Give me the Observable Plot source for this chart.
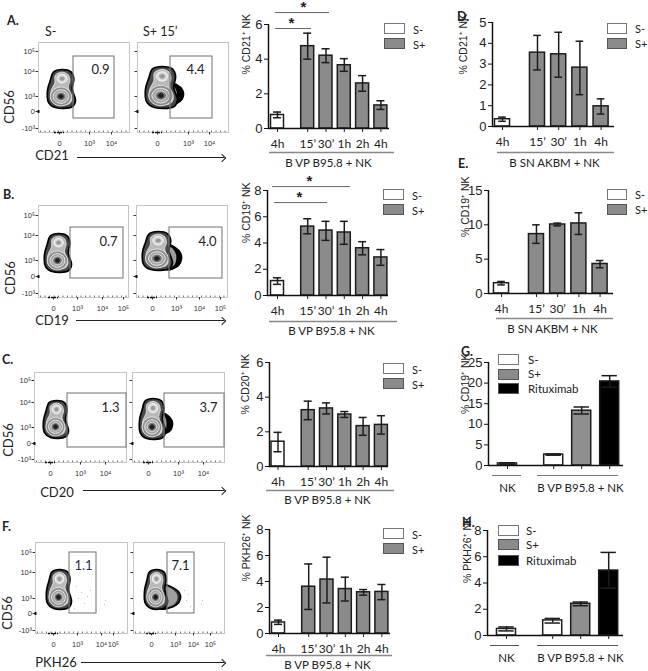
<!DOCTYPE html>
<html><head><meta charset="utf-8">
<script src="https://cdn.jsdelivr.net/npm/d3@7"></script>
<script src="https://cdn.jsdelivr.net/npm/@observablehq/plot@0.6"></script>
<style>
html,body{margin:0;padding:0;background:#fff}
#fig{position:relative;width:648px;height:671px;overflow:hidden;background:#fff}
#fig svg{position:absolute;overflow:visible;background:transparent}
.t{position:absolute;white-space:nowrap;font-family:Lato,sans-serif;color:#222;line-height:1;transform:translateY(-50%)}
.sw{position:absolute;box-sizing:border-box;border:1.4px solid #444}
.ln{position:absolute;height:1.2px;background:#222}
.hd{position:absolute;width:5px;height:5px;border-top:1.3px solid #222;border-right:1.3px solid #222;transform:rotate(45deg)}
</style></head>
<body><div id="fig"></div>
<script>
// ---------- bar chart values ----------
const vpTimes = ["4h","15’","30’","1h","2h","4h"];
const snTimes = ["4h","15’","30’","1h","4h"];
const ritKinds = ["S-","S+","Rituximab"];

const cd21Mean = [0.78,4.75,4.2,3.65,2.6,1.33];
const cd21Low  = [0.62,4.0,3.8,3.3,2.15,1.1];
const cd21High = [0.95,5.5,4.6,4.03,3.05,1.6];

const cd19Mean = [1.1,5.25,4.95,4.8,3.6,2.9];
const cd19Low  = [0.85,4.7,4.2,3.9,3.1,2.3];
const cd19High = [1.35,5.85,5.65,5.65,4.1,3.5];

const cd20Mean = [1.43,3.25,3.35,3.0,2.33,2.4];
const cd20Low  = [0.85,2.7,3.03,2.83,1.8,1.87];
const cd20High = [1.97,3.77,3.67,3.17,2.83,2.93];

const pkhMean = [0.85,3.6,4.15,3.42,3.17,3.2];
const pkhLow  = [0.7,1.85,2.35,2.5,2.95,2.6];
const pkhHigh = [1.03,5.35,5.87,4.33,3.38,3.77];

const snCd21Mean = [0.35,3.55,3.47,2.83,0.97];
const snCd21Low  = [0.25,2.72,2.37,1.53,0.6];
const snCd21High = [0.45,4.38,4.53,4.1,1.33];

const snCd19Mean = [1.5,8.65,10.05,10.2,4.3];
const snCd19Low  = [1.25,7.3,9.85,8.6,3.75];
const snCd19High = [1.75,10,10.25,11.75,4.8];

const ritCd19Mean = [0.5,2.65,13.3,20.4];
const ritCd19Low  = [0.35,2.5,12.5,19.0];
const ritCd19High = [0.65,2.8,14.2,21.8];

const ritPkhMean = [0.5,1.15,2.42,4.95];
const ritPkhLow  = [0.35,0.95,2.27,3.6];
const ritPkhHigh = [0.65,1.3,2.55,6.33];

// ---------- gate percentages ----------
const gateValues = ["0.9","4.4","0.7","4.0","1.3","3.7","1.1","7.1"];

// ---------- density contour shapes, in units of each population's box ----------
const outerX = [.52,.84,.94,.88,1,.88,.28,.04,0,.1,.22];
const outerY = [0,.06,.24,.51,.82,.98,1,.87,.55,.29,.06];
const innerX = [.52,.74,.8,.74,.87,.78,.3,.13,.13,.26,.28];
const innerY = [.07,.14,.29,.46,.76,.9,.92,.8,.56,.35,.15];
const ringX = [0,.7,1,.7,0,-.7,-1,-.7];
const ringY = [-1,-.7,0,.7,1,.7,0,-.7];
const bumpX = [0,.55,.95,1,.8,0];
const bumpY = [0,.1,.35,.6,.85,1];
const lowerRings = [[.38,.25,"#8d8d8d","#eee"],[.28,.18,"#a3a3a3","#fff"],[.18,.115,"#7a7a7a","#eee"],[.09,.06,"#1d1d1d","#333"]];
const topRings = [[.18,.115,"#dcdcdc","#fff"],[.1,.065,"#999","#ccc"]];
const pkhDotsLeft = [[78,598],[81,592],[84,603],[87,596],[74,608],[90,590],[76,586],[104,604],[105,600]];
const pkhDotsRight = [[184,590],[186,600],[188,594],[201,604],[202,600],[190,606]];

const BAR = {S:"#fff", P:"#8b8b8b", K:"#000"};
const LATO = "Lato, sans-serif", ARIAL = "'Liberation Sans', Arial, sans-serif";
const fig = document.getElementById("fig");

function place(svg, left, top){ svg.style.left = left+"px"; svg.style.top = top+"px"; fig.appendChild(svg); }
function text(s,x,y,o={}){
  const e=document.createElement("div"); e.className="t"; e.textContent=s;
  e.style.left=x+"px"; e.style.top=y+"px"; e.style.fontSize=(o.size||12)+"px";
  if(o.bold) e.style.fontWeight="700";
  if(o.center) e.style.transform="translate(-50%,-50%)";
  if(o.rot) e.style.transform="translate(-50%,-50%) rotate(-90deg)";
  fig.appendChild(e);
}
function legend(x,w,h,items,tx,size){
  items.forEach(it=>{
    const e=document.createElement("div"); e.className="sw";
    e.style.cssText+=`left:${x}px;top:${it.y}px;width:${w}px;height:${h}px;background:${it.fill};`;
    e.style.borderColor = it.fill==="#fff"?"#777":"#555";
    fig.appendChild(e);
    text(it.label,tx,it.y+h/2,{size:size||11});
  });
}
function arrow(x1,x2,y){
  const l=document.createElement("div"); l.className="ln";
  l.style.cssText+=`left:${x1}px;top:${y}px;width:${x2-x1}px;`; fig.appendChild(l);
  const h=document.createElement("div"); h.className="hd";
  h.style.cssText+=`left:${x2-5.5}px;top:${y-2.4}px;`; fig.appendChild(h);
}

// ---------- bar panel ----------
function barPanel(p){
  const toSlot = px => (px-p.first)/p.slot;
  const pos = i => i===0 ? 0 : i+0.65;
  const rows = p.mean.map((m,i)=>({i,x:pos(i),m,lo:p.low[i],hi:p.high[i],fill:p.fills[i]}));
  const hw = p.bw/2, cap = p.cap/2;
  const mL=36,mR=14,mT=Math.min(p.T,24),mB=46;
  const groups = p.groups.map(g=>({label:g.label,x1:toSlot(g.a),x2:toSlot(g.b),cx:toSlot(g.c)}));
  const tickLabels = new Map(rows.map((d,i)=>[d.x,p.labels[i]]));
  const marks = [
    Plot.rectY(rows,{x1:d=>d.x-hw,x2:d=>d.x+hw,y1:()=>0,y2:"m",fill:"fill",stroke:"#1c1c1c",strokeWidth:1.5}),
    Plot.ruleX(rows,{x:"x",y1:"lo",y2:"hi",stroke:"#1c1c1c",strokeWidth:1.5}),
    Plot.ruleY(rows,{y:"hi",x1:d=>d.x-cap,x2:d=>d.x+cap,stroke:"#1c1c1c",strokeWidth:1.5}),
    Plot.ruleY(rows,{y:"lo",x1:d=>d.x-cap,x2:d=>d.x+cap,stroke:"#1c1c1c",strokeWidth:1.5}),
    Plot.ruleY([0],{stroke:"#111",strokeWidth:1.5}),
    Plot.ruleX([toSlot(p.L)],{y1:0,y2:p.yMax,stroke:"#111",strokeWidth:1.5}),
    Plot.axisY({ticks:p.yTicks,tickSize:4,tickPadding:2,label:null,fontSize:13,fontFamily:ARIAL,stroke:"#111",color:"#222",tickFormat:d=>String(d)}),
    Plot.axisX({ticks:rows.map(d=>d.x),tickSize:p.labels[0]?4:4,tickPadding:p.tickPad,label:null,fontSize:12,fontFamily:LATO,color:"#222",tickFormat:d=>tickLabels.get(d)||""}),
    Plot.text([p.ylabel],{frameAnchor:"left",rotate:-90,dx:-(p.L-p.yLabelX),dy:p.yLabelDy||0,fontSize:10.5,fontFamily:ARIAL,fill:"#222"}),
    Plot.ruleY(groups,{y:()=>0,x1:"x1",x2:"x2",dy:p.ruleDy,stroke:p.ruleColor||"#888",strokeWidth:p.ruleWidth||1.6}),
    Plot.text(groups,{x:"cx",y:()=>0,text:"label",dy:p.labelDy,fontSize:11.5,fontFamily:LATO,fill:"#222"})
  ];
  if(p.sig){
    const sig = p.sig.map(s=>({y:s.y,x1:toSlot(s.a),x2:toSlot(s.b),sx:toSlot(s.star)}));
    marks.push(Plot.ruleY(sig,{y:"y",x1:"x1",x2:"x2",stroke:"#555",strokeWidth:0.9}));
    marks.push(Plot.text(sig,{x:"sx",y:"y",text:()=>"*",dy:-5,fontSize:15,fontWeight:"bold",fontFamily:ARIAL,fill:"#222"}));
  }
  const svg = Plot.plot({
    width:p.R-p.L+mL+mR, height:p.B-p.T+mT+mB,
    marginLeft:mL,marginRight:mR,marginTop:mT,marginBottom:mB,
    x:{type:"linear",domain:[toSlot(p.L),toSlot(p.R)]},
    y:{domain:[0,p.yMax]},
    style:{background:"transparent",overflow:"visible"},
    marks
  });
  place(svg,p.L-mL,p.T-mT);
}

const fillsVP=[BAR.S,BAR.P,BAR.P,BAR.P,BAR.P,BAR.P];
const fillsSN=[BAR.S,BAR.P,BAR.P,BAR.P,BAR.P];
const fillsR=["#fff","#fff","#8f8f8f","#000"];
const ritRuleColor="#777";

barPanel({L:268,R:389,T:24,B:128,yMax:6,yTicks:[0,2,4,6],first:277,slot:18.3,bw:.71,cap:.44,mean:cd21Mean,low:cd21Low,high:cd21High,fills:fillsVP,labels:vpTimes,ylabel:"% CD21⁺ NK",yLabelX:246,yLabelDy:-2,tickPad:7,ruleDy:24,labelDy:35,
  groups:[{label:"B VP B95.8 + NK",a:269,b:394,c:328}],sig:[{y:6.69,a:275,b:329,star:303},{y:5.77,a:275,b:311,star:291}]});
barPanel({L:267,R:388,T:190,B:295,yMax:8,yTicks:[0,2,4,6,8],first:277,slot:18.3,bw:.71,cap:.44,mean:cd19Mean,low:cd19Low,high:cd19High,fills:fillsVP,labels:vpTimes,ylabel:"% CD19⁺ NK",yLabelX:246,tickPad:7,ruleDy:26,labelDy:36,
  groups:[{label:"B VP B95.8 + NK",a:269,b:397,c:331}],sig:[{y:8.3,a:272,b:350,star:309},{y:7.08,a:274,b:327,star:299}]});
barPanel({L:269,R:388,T:362,B:466,yMax:6,yTicks:[0,2,4,6],first:277.5,slot:18.3,bw:.71,cap:.44,mean:cd20Mean,low:cd20Low,high:cd20High,fills:fillsVP,labels:vpTimes,ylabel:"% CD20⁺ NK",yLabelX:245,tickPad:7,ruleDy:24,labelDy:34,
  groups:[{label:"B VP B95.8 + NK",a:266,b:394,c:327}]});
barPanel({L:269,R:390,T:529,B:633,yMax:8,yTicks:[0,2,4,6,8],first:278,slot:18.3,bw:.71,cap:.44,mean:pkhMean,low:pkhLow,high:pkhHigh,fills:fillsVP,labels:vpTimes,ylabel:"% PKH26⁺ NK",yLabelX:246,tickPad:7,ruleDy:22,labelDy:32,
  groups:[{label:"B VP B95.8 + NK",a:266,b:392,c:327}]});
barPanel({L:492,R:614,T:22,B:126,yMax:5,yTicks:[0,1,2,3,4,5],first:502,slot:21.2,bw:.71,cap:.36,mean:snCd21Mean,low:snCd21Low,high:snCd21High,fills:fillsSN,labels:snTimes,ylabel:"% CD21⁺ NK",yLabelX:463,tickPad:7,ruleDy:26,labelDy:37,
  groups:[{label:"B SN AKBM + NK",a:497,b:614,c:554}]});
barPanel({L:488,R:613,T:190,B:293,yMax:15,yTicks:[0,5,10,15],first:501,slot:21.2,bw:.71,cap:.36,mean:snCd19Mean,low:snCd19Low,high:snCd19High,fills:fillsSN,labels:snTimes,ylabel:"% CD19⁺ NK",yLabelX:465,yLabelDy:-5,tickPad:7,ruleDy:25,labelDy:36,
  groups:[{label:"B SN AKBM + NK",a:496,b:613,c:552}]});
barPanel({L:488,R:623,T:362,B:465,yMax:25,yTicks:[0,5,10,15,20,25],first:507,slot:28,bw:.68,cap:.55,mean:ritCd19Mean,low:ritCd19Low,high:ritCd19High,fills:fillsR,labels:["","","",""],ylabel:"% CD19⁺ NK",yLabelX:465,tickPad:7,ruleDy:10,labelDy:23,ruleColor:ritRuleColor,ruleWidth:1,
  groups:[{label:"NK",a:492,b:521,c:507},{label:"B VP B95.8 + NK",a:537,b:618,c:580}]});
barPanel({L:487,R:623,T:530,B:635,yMax:8,yTicks:[0,2,4,6,8],first:506,slot:28,bw:.68,cap:.55,mean:ritPkhMean,low:ritPkhLow,high:ritPkhHigh,fills:fillsR,labels:["","","",""],ylabel:"% PKH26⁺ NK",yLabelX:467,tickPad:7,ruleDy:10,labelDy:23,ruleColor:"#555",ruleWidth:1,
  groups:[{label:"NK",a:490,b:519,c:506},{label:"B VP B95.8 + NK",a:537,b:618,c:580}]});

// ---------- legends ----------
const sm = t=>[{label:"S-",y:t,fill:"#fff"},{label:"S+",y:t+15,fill:BAR.P}];
legend(384,21,11,sm(23),413);
legend(607,20,10.5,sm(23),635);
legend(383,21,11,sm(189),412);
legend(607,20,10.5,sm(189),635);
legend(383,21,11,sm(363),412);
legend(383,21,11,sm(528),412);
legend(498,21,11,[{label:"S-",y:354,fill:"#fff"},{label:"S+",y:368.5,fill:BAR.P},{label:"Rituximab",y:383,fill:"#000"}],528,11.5);
legend(498,21,11,[{label:"S-",y:525,fill:"#fff"},{label:"S+",y:539,fill:BAR.P},{label:"Rituximab",y:555,fill:"#000"}],526,11.5);

// ---------- flow plots ----------
function shape(xs,ys,box,fill,stroke,sw){
  const pts = xs.map((x,i)=>({x:box.x1+x*(box.x2-box.x1),y:box.y1+ys[i]*(box.y2-box.y1)}));
  return Plot.line(pts,{x:"x",y:"y",curve:"catmull-rom-closed",fill,stroke,strokeWidth:sw,imageFilter:"blur(0.25px)"});
}
function ring(box,cx,cy,rx,ry,fill,stroke){
  const w=box.x2-box.x1,h=box.y2-box.y1;
  const b={x1:box.x1+cx*w,x2:box.x1+cx*w+rx*w,y1:box.y1+cy*h,y2:box.y1+cy*h+ry*h*(1)};
  return shape(ringX,ringY,b,fill,stroke,0.8);
}
function facs(f){
  const mL=20,mB=22,mT=2,mR=2;
  const marks=[Plot.frame({stroke:"#c4c4c4",strokeWidth:1})];
  if(f.bump){
    marks.push(shape(bumpX,bumpY,f.bump,f.bumpFill||"#000","#000",1.4));
    const b=f.bump, inner={x1:b.x1,x2:b.x1+(b.x2-b.x1)*(f.bumpInner||.6),y1:b.y1+1,y2:b.y2-1};
    marks.push(shape(bumpX,bumpY,inner,"#9e9e9e","none",0));
  }
  marks.push(shape(outerX,outerY,f.box,"#4a4a4a","#000",1.7));
  marks.push(shape(innerX,innerY,f.box,"#b9b9b9","#eee",0.8));
  lowerRings.forEach(r=>marks.push(ring(f.box,.48,.71,r[0],r[1],r[2],r[3])));
  topRings.forEach(r=>marks.push(ring(f.box,.52,.24,r[0],r[1],r[2],r[3])));
  if(f.dots) marks.push(Plot.dot(f.dots,{x:d=>d[0],y:d=>d[1],r:0.5,fill:"#aaa"}));
  marks.push(Plot.rect([f.gate],{x1:"x1",x2:"x2",y1:"y1",y2:"y2",fill:"none",stroke:"#7d7d7d",strokeWidth:1.1}));
  marks.push(Plot.text([f.value],{x:f.lx,y:f.ly,text:d=>d,fontSize:13,fontFamily:LATO,fill:f.lc||"#222"}));
  marks.push(Plot.axisY({ticks:f.yt.map(d=>d[0]),tickSize:2.5,tickPadding:1,label:null,fontSize:7.5,fontFamily:ARIAL,color:"#333",
    tickFormat:f.labelY?(v=>(f.yt.find(d=>d[0]===v)||[])[1]):()=>""}));
  marks.push(Plot.axisX({ticks:f.xt.map(d=>d[0]),tickSize:2.5,tickPadding:6,label:null,fontSize:7.5,fontFamily:ARIAL,color:"#333",
    tickFormat:v=>(f.xt.find(d=>d[0]===v)||[])[1]}));
  const minor=d3.range(f.l+2,f.r-2,4.5).map(x=>({x}));
  marks.push(Plot.ruleX(minor,{x:"x",y1:f.b,y2:f.b-1.5,stroke:"#333",strokeWidth:.7}));
  marks.push(Plot.ruleY([f.yt[3][0]],{x1:f.l-.5,x2:f.l+1.5,stroke:"#111",strokeWidth:3}));
  marks.push(Plot.ruleY([f.b],{x1:f.xt[0][0]-5,x2:f.xt[0][0]+5,stroke:"#111",strokeWidth:1.6,strokeDasharray:"2 1"}));
  const svg=Plot.plot({
    width:f.r-f.l+mL+mR,height:f.b-f.t+mT+mB,marginLeft:mL,marginRight:mR,marginTop:mT,marginBottom:mB,
    x:{type:"linear",domain:[f.l,f.r]},y:{type:"linear",domain:[f.b,f.t]},
    style:{background:"transparent",overflow:"visible"},marks
  });
  place(svg,f.l-mL,f.t-mT);
}
const yl = a=>[[a[0],"10⁵"],[a[1],"10⁴"],[a[2],"10³"],[a[3],"0"],[a[4],"-10³"]];
const xl = a=>a.map((v,i)=>[v,["0","10³","10⁴","10⁵"][i]]);

const yA=yl([51,71,96,111,128]), yB=yl([215,235,260,276,293]), yC=yl([380,402,427,443,459]), yF=yl([552,572,598,613,630]);
facs({l:38,r:129,t:42,b:132,labelY:true,yt:yA,xt:xl([59,89,111]),box:{x1:47,x2:75,y1:69,y2:107},gate:{x1:73,x2:114,y1:56,y2:118},value:gateValues[0],lx:100,ly:69});
facs({l:137,r:228,t:42,b:132,yt:yA,xt:xl([157,188,209]),box:{x1:145,x2:177,y1:66,y2:107},bump:{x1:168,x2:183,y1:82,y2:104},bumpInner:.55,gate:{x1:170,x2:212,y1:56,y2:118},value:gateValues[1],lx:195,ly:69});
facs({l:38,r:128,t:205,b:297,labelY:true,yt:yB,xt:xl([53,77,102,123]),box:{x1:44,x2:71,y1:233,y2:271},gate:{x1:70,x2:123,y1:227,y2:278},value:gateValues[2],lx:108,ly:241});
facs({l:136,r:227,t:205,b:297,yt:yB,xt:xl([152,176,199,220]),box:{x1:142,x2:172,y1:231,y2:269},bump:{x1:166,x2:181,y1:244,y2:269},bumpInner:.65,gate:{x1:169,x2:222,y1:227,y2:278},value:gateValues[3],lx:207,ly:241});
facs({l:34,r:126,t:372,b:462,labelY:true,yt:yC,xt:xl([50,80,105]),box:{x1:43,x2:68,y1:400,y2:437},gate:{x1:67,x2:126,y1:393,y2:447},value:gateValues[4],lx:110,ly:407});
facs({l:132,r:224,t:372,b:462,yt:yC,xt:xl([148,178,203]),box:{x1:139,x2:165,y1:398,y2:438},bump:{x1:162,x2:172,y1:413,y2:433},bumpInner:.4,gate:{x1:164,x2:224,y1:393,y2:447},value:gateValues[5],lx:208,ly:407});
facs({l:35,r:127,t:542,b:633,labelY:true,yt:yF,xt:xl([53,77,101,113]),box:{x1:46,x2:71,y1:569,y2:608},gate:{x1:69,x2:96,y1:552,y2:613},value:gateValues[6],lx:83,ly:565,lc:"#1c2f55",dots:pkhDotsLeft});
facs({l:133,r:224,t:542,b:633,yt:yF,xt:xl([151,175,193,210]),box:{x1:144,x2:167,y1:569,y2:608},bump:{x1:160,x2:180,y1:584,y2:608},bumpFill:"#2a2a2a",bumpInner:.85,gate:{x1:167,x2:194,y1:552,y2:613},value:gateValues[7],lx:180,ly:565,dots:pkhDotsRight});

// ---------- figure labels ----------
[["A.",7,21],["B.",3,195],["C.",2,360],["F.",2,527],["D.",457,17],["E.",458,164],["G.",461,352],["H.",462,523]]
  .forEach(d=>text(d[0],d[1],d[2],{size:12.5,bold:true}));
text("S-",45,32,{size:12.5}); text("S+ 15’",143,32,{size:12.5});
[[9,107],[10,278],[8,440],[7,613]].forEach(d=>text("CD56",d[0],d[1],{size:13,rot:true}));
text("CD21",52,155,{size:13,center:true}); arrow(77,224,157);
text("CD19",52,320,{size:13,center:true}); arrow(76,224,320);
text("CD20",57,492,{size:13,center:true}); arrow(83,224,490);
text("PKH26",56,662,{size:13,center:true}); arrow(81,224,662);
</script></body></html>
